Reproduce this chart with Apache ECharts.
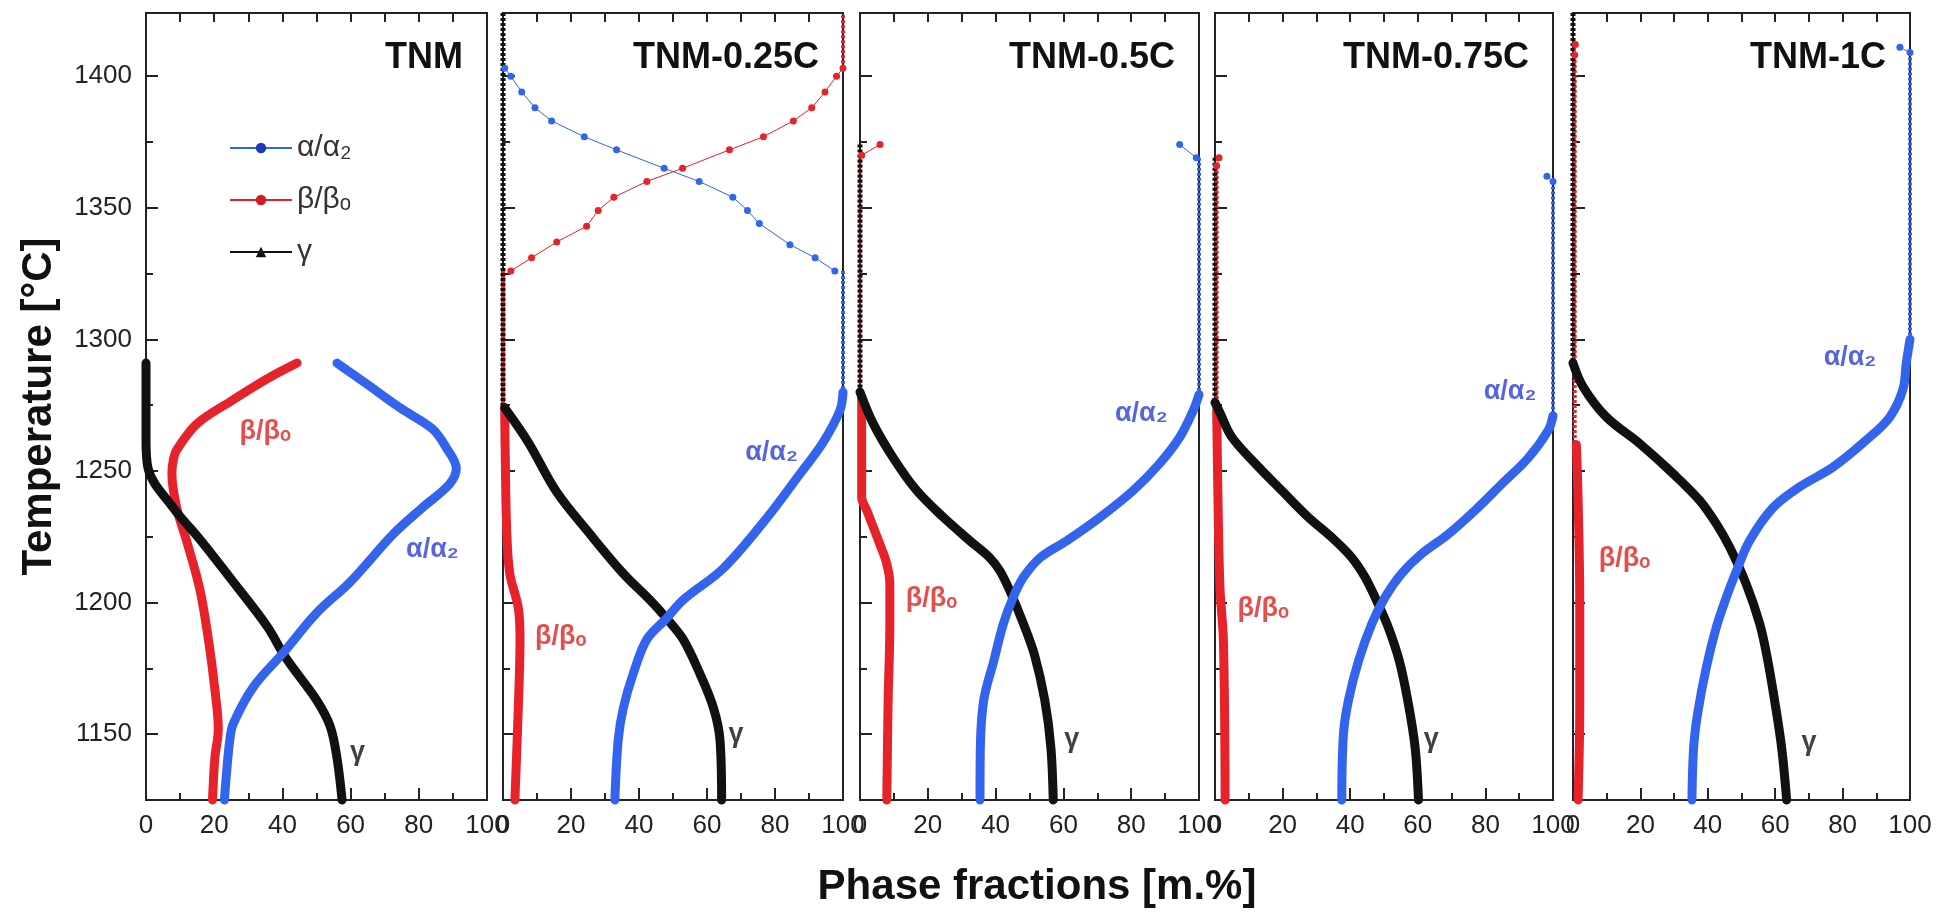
<!DOCTYPE html>
<html lang="en">
<head>
  <meta charset="utf-8">
  <style>
    html, body { margin: 0; padding: 0; width: 100%; height: 100%; overflow: hidden; background: #fff; }
  </style>
  <script src="https://cdn.jsdelivr.net/npm/echarts@6/dist/echarts.min.js"></script>
</head>
<body>
  <div id="container" style="width: 1944px; height: 915px;"></div>
  <script>
    // ---- data: [phase fraction (m.%), temperature (°C)] ----
    const panelNames = ['TNM', 'TNM-0.25C', 'TNM-0.5C', 'TNM-0.75C', 'TNM-1C'];
    const fracTicks = [0, 20, 40, 60, 80, 100];
    const tempMajor = [1150, 1200, 1250, 1300, 1350, 1400];
    const tempMinor = [1175, 1225, 1275, 1325, 1375];

    const tnmAlpha = [[56,1291],[64.8,1283],[74.5,1274],[84,1266],[88,1259],[91,1251],[89,1245],[81,1236],[72.5,1226],[60,1208],[50,1196],[40.3,1181],[31.5,1168],[25.6,1154],[24.6,1148],[23.6,1135],[23,1125]];
    const tnmBeta = [[44.3,1291],[35.5,1285],[25.5,1277],[15,1268],[9,1258],[8,1254],[7.6,1249],[9,1236],[12,1223],[15.8,1205],[18.3,1186],[20.2,1167],[21.2,1152],[20.2,1141],[19.5,1125]];
    const tnmGamma = [[0,1291],[0,1262],[0.6,1251],[8,1236],[15.8,1224],[25.5,1208],[35.5,1191],[41,1179],[50,1163],[54,1153],[56,1141],[57.5,1125]];

    const c025Alpha = [[100,1280],[99.1,1273],[94.2,1261],[87.4,1249],[77.5,1232],[64.8,1213],[53,1201],[48.1,1194],[42.3,1186],[38.3,1173],[35.4,1160],[33.9,1148],[32.9,1125]];
    const c025Beta = [[0.5,1274],[0.6,1261],[1.1,1227],[2,1211],[4.5,1198],[5,1186],[4.5,1160],[3.5,1125]];
    const c025Gamma = [[0.5,1274],[7.4,1261],[15.8,1242],[25.6,1226],[35.4,1211],[43.2,1201],[48.1,1194],[53,1186],[57.9,1173],[61.9,1160],[63.8,1148],[64.3,1125]];
    const c025AlphaDots = [[0.5,1403],[2.3,1400],[5.5,1394],[9.4,1388],[14.3,1383],[23.9,1377],[33.4,1372],[47.4,1365],[57.7,1360],[67.6,1354],[71.9,1349],[75.4,1344],[84.4,1336],[91.8,1331],[97.6,1326]];
    const c025BetaDots = [[2.3,1326],[8.4,1331],[15.8,1337],[24.6,1343],[28,1349],[32.6,1354],[42.3,1360],[52.8,1365],[66.6,1372],[76.6,1377],[85.4,1383],[90.8,1388],[94.7,1394],[98.1,1400],[100,1403]];

    const c05Alpha = [[100,1279],[98.3,1273],[94.4,1263],[88.5,1253],[80.6,1242.6],[70.8,1232.4],[61,1223.5],[53.1,1217],[48.2,1209.6],[45.2,1202],[42.3,1192],[39.5,1178],[36.5,1163],[35.5,1145],[35.4,1125]];
    const c05Beta = [[0.5,1278],[0.5,1240],[2,1235],[5.9,1222],[7.9,1214.7],[8.8,1207],[8.8,1192],[8.3,1163],[7.9,1125]];
    const c05Gamma = [[0,1280],[3.9,1268],[9.8,1255],[16.7,1242.6],[24.6,1232.4],[32.4,1223.5],[38.3,1217],[41.3,1212],[44.2,1204.5],[48.2,1192],[51.5,1180],[54.5,1163],[56.3,1145],[57,1125]];
    const c05AlphaDots = [[94.3,1374],[99.2,1369]];
    const c05BetaDots = [[5.9,1374],[0.5,1370]];

    const c075Alpha = [[100,1271],[98.6,1265.5],[92.7,1255],[84.8,1245],[76.9,1235],[69,1226],[61.1,1218.5],[55.2,1211],[50.3,1202],[46.4,1192],[42.5,1178],[39.5,1163],[38,1150],[37.5,1125]];
    const c075Beta = [[0.5,1273],[1,1230],[1.5,1205],[2.5,1185],[3,1125]];
    const c075Gamma = [[0,1276],[1.5,1272],[4.9,1263],[11.8,1253],[19.7,1242.6],[27.6,1232.4],[34.5,1224.8],[40.4,1217.2],[44.4,1209.6],[48.3,1199.4],[51.3,1190.5],[54.5,1178],[57,1163],[59.2,1145],[60.2,1125]];
    const c075AlphaDots = [[98.2,1362],[100,1360]];
    const c075BetaDots = [[1.2,1369],[0.5,1366]];

    const c1Alpha = [[100,1300],[98.9,1291],[97.9,1281],[94,1270.5],[87,1261.7],[77.2,1251.5],[67.3,1244],[59.3,1236],[52.4,1223.5],[48.5,1212],[45.5,1202],[42.5,1190.5],[39.5,1175],[37,1158],[35.8,1145],[35.3,1125]];
    const c1Beta = [[1,1260],[1.5,1240],[2,1200],[2,1160],[1.5,1125]];
    const c1Gamma = [[0,1291],[3,1282],[9.9,1270.5],[19.8,1260.4],[29.7,1249],[37.6,1238.8],[42.5,1230],[46.5,1221],[51.4,1207],[55.4,1192],[57.5,1180],[59.8,1163],[61.9,1145],[63.4,1125]];
    const c1AlphaDots = [[97,1411],[100,1409]];
    const c1BetaDots = [[0.7,1412],[0.5,1408]];

    // dense-marker runs along the frame edges (one list of segments per panel)
    const alphaEdges = [[], [[[100,1326],[100,1280]]], [[[100,1369],[100,1279]]], [[[100,1360],[100,1271]]], [[[100,1409],[100,1300]]]];
    const betaEdges = [[], [[[100,1403],[100,1424]], [[0,1326],[0,1274]]], [[[0,1370],[0,1240]]], [[[0.5,1366],[0.5,1230]]], [[[0.5,1408],[0.5,1260]]]];
    const gammaEdges = [[], [[[0,1424],[0,1274]]], [[[0,1374],[0,1280]]], [[[0,1369],[0,1276]]], [[[0,1424],[0,1291]]]];

    const alphaCurves = [tnmAlpha, c025Alpha, c05Alpha, c075Alpha, c1Alpha];
    const betaCurves = [tnmBeta, c025Beta, c05Beta, c075Beta, c1Beta];
    const gammaCurves = [tnmGamma, c025Gamma, c05Gamma, c075Gamma, c1Gamma];
    const alphaDots = [[], c025AlphaDots, c05AlphaDots, c075AlphaDots, c1AlphaDots];
    const betaDots = [[], c025BetaDots, c05BetaDots, c075BetaDots, c1BetaDots];

    // in-panel phase labels, [fraction, temperature]
    const alphaLabelAt = [[84,1220],[79,1257],[83,1272],[87.3,1280],[82.2,1293]];
    const betaLabelAt = [[35,1265],[17,1187],[21.1,1201.6],[14.3,1197.6],[15.3,1216.7]];
    const gammaLabelAt = [[62,1143],[68.5,1150],[62.5,1148],[64,1148],[70,1147]];

    const names = { a: 'α/α₂', b: 'β/βₒ', g: 'γ' };

    // ---- layout ----
    const BLUE = '#3264ee', RED = '#e6222a', BLACK = '#111';
    const FONT = '"Liberation Sans", Arial, sans-serif';
    const panelLeft = [146, 503, 860, 1215, 1573];
    const panelRight = [487, 843, 1199, 1553, 1910];
    const TOP = 13, BOTTOM = 800;

    var dom = document.getElementById('container');
    var myChart = echarts.init(dom, null, { renderer: 'canvas' });

    let grids = [], xAxes = [], yAxes = [], titles = [], series = [];
    const axisLine = { show: true, onZero: false, lineStyle: { color: '#222', width: 2 } };

    for (let i = 0; i < 5; i++) {
      grids.push({
        left: panelLeft[i], width: panelRight[i] - panelLeft[i], top: TOP, height: BOTTOM - TOP,
        show: true, borderColor: '#222', borderWidth: 2, backgroundColor: 'transparent'
      });
      xAxes.push({
        gridIndex: i, type: 'value', min: 0, max: 100, interval: 20, position: 'bottom',
        axisLine: axisLine,
        axisTick: { inside: true, length: 12, lineStyle: { color: '#222', width: 2 } },
        minorTick: { show: true, splitNumber: 2, length: 7, lineStyle: { color: '#222', width: 2 } },
        axisLabel: { fontSize: 26, color: '#222', margin: 13, fontFamily: FONT, showMinLabel: true, showMaxLabel: true },
        splitLine: { show: false }, minorSplitLine: { show: false }
      });
      xAxes.push({
        gridIndex: i, type: 'value', min: 0, max: 100, interval: 10, position: 'top',
        axisLine: axisLine,
        axisTick: { inside: true, length: 9, lineStyle: { color: '#222', width: 2 } },
        axisLabel: { show: false }, splitLine: { show: false }
      });
      yAxes.push({
        gridIndex: i, type: 'value', min: 1125, max: 1424, position: 'left',
        axisLine: axisLine,
        axisTick: { inside: true, length: 12, customValues: tempMajor, lineStyle: { color: '#222', width: 2 } },
        axisLabel: {
          show: i === 0, customValues: tempMajor, fontSize: 26, color: '#222', margin: 14, fontFamily: FONT,
          formatter: function (v) { return String(v); }
        },
        splitLine: { show: false },
        name: i === 0 ? 'Temperature [°C]' : '',
        nameLocation: 'middle', nameGap: 86, nameRotate: 90,
        nameTextStyle: { fontSize: 42, fontWeight: 'bold', color: '#111', fontFamily: FONT }
      });
      yAxes.push({
        gridIndex: i, type: 'value', min: 1125, max: 1424, position: 'left',
        axisLine: { show: false },
        axisTick: { inside: true, length: 7, customValues: tempMinor, lineStyle: { color: '#222', width: 2 } },
        axisLabel: { show: false }, splitLine: { show: false }
      });
      titles.push({
        text: panelNames[i], right: 1944 - panelRight[i] + 24, top: 40, padding: 0,
        textStyle: { fontSize: 36, fontWeight: 'bold', color: '#111', fontFamily: FONT }
      });

      const ax = { xAxisIndex: 2 * i, yAxisIndex: 2 * i, clip: false, silent: true, animation: false };

      // edge runs drawn as dense dotted strokes
      [[betaEdges, RED, 4], [alphaEdges, BLUE, 4], [gammaEdges, BLACK, 5]].forEach(function (e) {
        e[0][i].forEach(function (seg) {
          series.push(Object.assign({
            type: 'line', data: seg, symbol: 'none',
            lineStyle: { color: e[1], width: e[2], type: [3, 2] }
          }, ax));
        });
      });
      // sparse measured points
      [[betaDots, RED], [alphaDots, BLUE]].forEach(function (d) {
        if (d[0][i].length) {
          series.push(Object.assign({
            type: 'line', data: d[0][i], symbol: 'circle', symbolSize: 7, showSymbol: true,
            itemStyle: { color: d[1] }, lineStyle: { color: d[1], width: 1 }
          }, ax));
        }
      });
      // thick curves
      [[betaCurves, RED], [gammaCurves, BLACK], [alphaCurves, BLUE]].forEach(function (c) {
        series.push(Object.assign({
          type: 'line', data: c[0][i], symbol: 'none', smooth: 0.35,
          lineStyle: { color: c[1], width: 9, cap: 'round', join: 'round' }
        }, ax));
      });
      // phase labels
      [[alphaLabelAt, names.a, '#2a3fd8'], [betaLabelAt, names.b, '#e02020'], [gammaLabelAt, names.g, '#111']].forEach(function (l) {
        series.push(Object.assign({
          type: 'scatter', data: [l[0][i]], symbol: 'circle', symbolSize: 2,
          itemStyle: { color: 'rgba(0,0,0,0)' },
          label: { show: true, position: 'inside', formatter: l[1], fontSize: 27, fontWeight: 'bold', color: l[2], fontFamily: FONT }
        }, ax));
      });
    }

    // legend-only series
    [[names.a, BLUE, 'circle', '#2038c0'], [names.b, RED, 'circle', '#d01c24'], [names.g, BLACK, 'triangle', '#111']].forEach(function (s) {
      series.push({
        name: s[0], type: 'line', data: [], xAxisIndex: 0, yAxisIndex: 0,
        symbol: s[2], symbolSize: 10, itemStyle: { color: s[3] }, lineStyle: { color: s[1], width: 1 }
      });
    });

    var option = {
      backgroundColor: '#fff',
      animation: false,
      title: titles,
      grid: grids,
      xAxis: xAxes,
      yAxis: yAxes,
      legend: {
        data: [names.a, names.b, names.g],
        orient: 'vertical', left: 224, top: 128,
        itemWidth: 62, itemHeight: 13, itemGap: 22,
        textStyle: { fontSize: 30, color: '#333', fontFamily: FONT },
        selectedMode: false
      },
      graphic: [{
        type: 'text', x: 1037, y: 887,
        style: {
          text: 'Phase fractions [m.%]', font: 'bold 42px ' + FONT, fill: '#111',
          textAlign: 'center', textVerticalAlign: 'middle', align: 'center', verticalAlign: 'middle'
        }
      }],
      series: series
    };

    myChart.setOption(option);
    window.addEventListener('resize', myChart.resize);
  </script>
</body>
</html>
